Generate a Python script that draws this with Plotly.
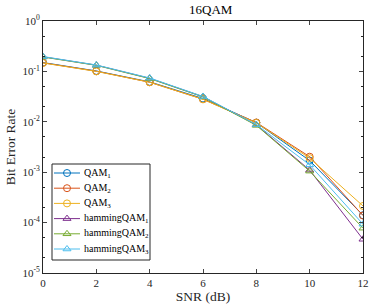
import plotly.graph_objects as go

snr = [0, 2, 4, 6, 8, 10, 12]
names = ["QAM<sub>1</sub>", "QAM<sub>2</sub>", "QAM<sub>3</sub>",
         "hammingQAM<sub>1</sub>", "hammingQAM<sub>2</sub>", "hammingQAM<sub>3</sub>"]
qam1 = [0.150, 0.102, 0.062, 0.029, 0.0096, 0.0017, 0.000140]
qam2 = [0.148, 0.101, 0.061, 0.028, 0.0097, 0.00203, 0.000138]
qam3 = [0.147, 0.100, 0.061, 0.028, 0.0095, 0.00190, 0.000214]
ham1 = [0.195, 0.133, 0.073, 0.0315, 0.0087, 0.00110, 0.0000467]
ham2 = [0.193, 0.132, 0.072, 0.0312, 0.0085, 0.00105, 0.0000775]
ham3 = [0.197, 0.134, 0.074, 0.0318, 0.0088, 0.00140, 0.0000930]
series = [qam1, qam2, qam3, ham1, ham2, ham3]
colors = ["#0072BD", "#D95319", "#EDB120", "#7E2F8E", "#77AC30", "#4DBEEE"]
symbols = ["circle-open"] * 3 + ["triangle-up-open"] * 3

ytickvals = [1, 0.1, 0.01, 0.001, 0.0001, 0.00001]
yticktext = ["10<sup>0</sup>", "10<sup>-1</sup>", "10<sup>-2</sup>", "10<sup>-3</sup>",
             "10<sup>-4</sup>", "10<sup>-5</sup>"]

font = "Liberation Serif, Times New Roman, serif"

# plot area in pixels
W, H = 373, 306
ML, MR, MT, MB = 43, 10, 21, 33
PW, PH = W - ML - MR, H - MT - MB

fig = go.Figure()
for name, ys, c, s in zip(names, series, colors, symbols):
    fig.add_trace(go.Scatter(x=snr, y=ys, name=name, mode="lines+markers",
                             line=dict(color=c, width=1), showlegend=False,
                             marker=dict(symbol=s, size=7, color=c, line=dict(width=1, color=c))))

# custom legend (matching MATLAB's compact legend) on an overlay pixel axis
leg_left, leg_right, leg_top, leg_bottom = 52, 150, 164, 260
row_top, row_step = 173, 15.2
fig.add_shape(type="rect", xref="paper", yref="paper", layer="below",
              x0=(leg_left - ML) / PW, x1=(leg_right - ML) / PW,
              y0=(H - MB - leg_bottom) / PH, y1=(H - MB - leg_top) / PH,
              line=dict(color="#262626", width=1), fillcolor="white")
for i, (name, c, s) in enumerate(zip(names, colors, symbols)):
    yy = (H - MB) - (row_top + i * row_step)
    x0, x1 = 54 - ML, 80 - ML
    fig.add_trace(go.Scatter(x=[x0, (x0 + x1) / 2, x1], y=[yy, yy, yy], mode="lines+markers",
                             xaxis="x2", yaxis="y2", showlegend=False, hoverinfo="skip",
                             line=dict(color=c, width=1),
                             marker=dict(symbol=s, size=7, color=c, opacity=[0, 1, 0],
                                         line=dict(width=1, color=c))))
    fig.add_annotation(x=82 - ML, y=yy, xref="x2", yref="y2", text=name, showarrow=False,
                       xanchor="left", yanchor="middle",
                       font=dict(family=font, size=10, color="black"))

fig.update_layout(
    template="none",
    width=W, height=H,
    margin=dict(l=ML, r=MR, t=MT, b=MB, autoexpand=False),
    paper_bgcolor="white", plot_bgcolor="white",
    font=dict(family=font, size=11, color="#262626"),
    title=dict(text="16QAM", x=0.565, xanchor="center", y=0.985, yanchor="top",
               font=dict(family=font, size=13, color="black")),
    showlegend=False,
    xaxis=dict(range=[0, 12], tickvals=snr, ticks="inside", ticklen=4, automargin=False,
               showline=True, linecolor="#262626", linewidth=1, mirror="ticks",
               showgrid=False, zeroline=False, ticklabeloverflow="allow",
               tickfont=dict(family=font, size=11, color="#262626"),
               title=dict(text="SNR (dB)", standoff=0,
                          font=dict(family=font, size=13.5, color="#262626"))),
    yaxis=dict(type="log", range=[-5, 0], tickvals=ytickvals, ticktext=yticktext,
               ticks="inside", ticklen=4, automargin=False,
               minor=dict(ticks="inside", ticklen=2, tickcolor="#262626", showgrid=False),
               showline=True, linecolor="#262626", linewidth=1, mirror="ticks",
               showgrid=False, zeroline=False,
               tickfont=dict(family=font, size=11, color="#262626"),
               title=dict(text="Bit Error Rate", standoff=3,
                          font=dict(family=font, size=13.5, color="#262626"))),
    xaxis2=dict(overlaying="x", anchor="y2", range=[0, PW], visible=False, fixedrange=True),
    yaxis2=dict(overlaying="y", anchor="x2", range=[0, PH], visible=False, fixedrange=True),
)

fig.write_html("out.html", config={"displayModeBar": False},
               post_script="document.body.style.margin='0';")
